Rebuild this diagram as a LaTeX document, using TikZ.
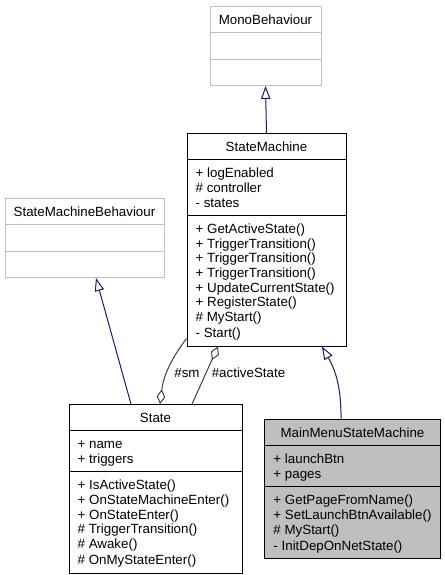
\documentclass[tikz,border=0pt]{standalone}
\usepackage{fontspec}
\setmainfont{Liberation Sans}
\usetikzlibrary{arrows.meta,shapes.multipart}

\definecolor{extgray}{HTML}{BFBFBF}
\definecolor{inheritblue}{HTML}{191970}
\definecolor{aggrgray}{HTML}{404040}
\newcommand{\umlstrut}{\rule[-2pt]{0pt}{11pt}}

\begin{document}
\begin{tikzpicture}[x=0.75pt,y=-0.75pt,
    umlclass/.style={rectangle split,rectangle split parts=3,
      rectangle split part align={center,left,left},
      draw=black,line width=0.75pt,align=left,anchor=north,
      inner xsep=6.5pt,inner ysep=4pt,font=\fontsize{10}{11}\selectfont},
    extclass/.style={umlclass,draw=extgray},
    inherit/.style={draw=inheritblue,line width=0.75pt,
      -{Triangle[length=9.75pt,width=7pt,fill=white]}},
    aggr/.style={draw=aggrgray,line width=0.75pt},
    aggrtip/.tip={Diamond[length=11pt,width=6.5pt,fill=white]}]
    \useasboundingbox (0,0) rectangle (445,575);

    \node[extclass,minimum width=83.25pt] (mono) at (265.5,6)
      {MonoBehaviour\umlstrut \nodepart{two}\umlstrut \nodepart{three}\umlstrut};

    \node[extclass,minimum width=119.25pt] (smb) at (84.5,198)
      {StateMachineBehaviour\umlstrut \nodepart{two}\umlstrut \nodepart{three}\umlstrut};

    \node[umlclass,minimum width=119.25pt] (sm) at (266.5,133)
      {StateMachine\umlstrut
      \nodepart{two}\umlstrut+ logEnabled\\\# controller\\- states\umlstrut
      \nodepart{three}\umlstrut+ GetActiveState()\\+ TriggerTransition()\\+ TriggerTransition()\\
        + TriggerTransition()\\+ UpdateCurrentState()\\+ RegisterState()\\\# MyStart()\\- Start()\umlstrut};

    \node[umlclass,minimum width=129.75pt] (state) at (155.5,404)
      {State\umlstrut
      \nodepart{two}\umlstrut+ name\\+ triggers\umlstrut
      \nodepart{three}\umlstrut+ IsActiveState()\\+ OnStateMachineEnter()\\+ OnStateEnter()\\
        \# TriggerTransition()\\\# Awake()\\\# OnMyStateEnter()\umlstrut};

    \node[umlclass,fill=extgray,minimum width=131.25pt] (mmsm) at (352.5,419)
      {MainMenuStateMachine\umlstrut
      \nodepart{two}\umlstrut+ launchBtn\\+ pages\umlstrut
      \nodepart{three}\umlstrut+ GetPageFromName()\\+ SetLaunchBtnAvailable()\\\# MyStart()\\- InitDepOnNetState()\umlstrut};

    % label
    \node[font=\fontsize{10}{11}\selectfont] (smlabel) at (187,373) {\#sm};
    \node[font=\fontsize{10}{11}\selectfont] (activelabel) at (248.5,373) {\#activeState};

    \draw[inherit] (sm.north) -- (mono.south);
    \draw[inherit] ([xshift=-18.4pt]state.north) -- ([xshift=8.6pt]smb.south);
    \draw[inherit] ([xshift=-8.6pt]mmsm.north) to[bend right=15] ([xshift=41.6pt]sm.south);

    \draw[aggr,-aggrtip] ([yshift=6pt]sm.south west) to[bend right=15] ([xshift=3.4pt]state.north);
    \draw[aggr,aggrtip-] ([xshift=-36.4pt]sm.south) -- ([xshift=27.4pt]state.north);
  \end{tikzpicture}
\end{document}
